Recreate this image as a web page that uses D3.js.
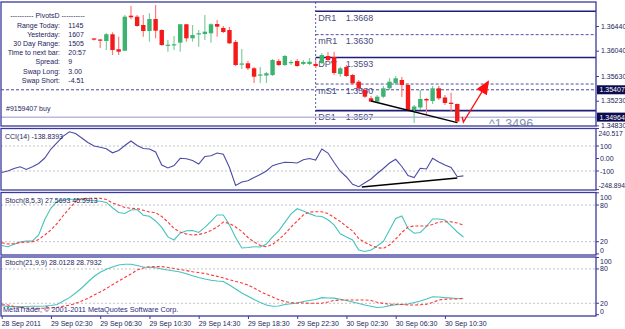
<!DOCTYPE html>
<html>
<head>
<meta charset="utf-8">
<script src="https://cdn.jsdelivr.net/npm/d3@7"></script>
<style>
  body { margin: 0; background: #fff; }
  svg { display: block; font-family: "Liberation Sans", Arial, sans-serif; }
</style>
</head>
<body>
<svg id="chart" width="625" height="329"></svg>
<script>
// ---- data (M30 bars, index 0 = 28 Sep 22:30) ----
const firstCandle = 15;
const opens  = [1.36238,1.36221,1.36197,1.36306,1.36063,1.36040,1.36607,1.36591,1.36456,1.36359,
                1.36553,1.36375,1.36127,1.36127,1.36170,1.36468,1.36241,1.36306,1.36310,1.36322,
                1.36472,1.36408,1.36375,1.36181,1.35817,1.35836,1.35755,1.35638,1.35638,1.35646,
                1.35873,1.35808,1.35841,1.35873,1.35825,1.35825,1.35825,1.35841,1.35954,1.35938,
                1.35663,1.35776,1.35646,1.35538,1.35404,1.35269,1.35214,1.35295,1.35431,1.35512,
                1.35566,1.35485,1.35080,1.35120,1.35258,1.35225,1.35431,1.35282,1.35198,1.35177];
const highs  = [1.36246,1.36229,1.36327,1.36338,1.36267,1.36618,1.36764,1.36618,1.36618,1.36646,
                1.36780,1.36387,1.36213,1.36278,1.36472,1.36472,1.36456,1.36375,1.36618,1.36484,
                1.36537,1.36440,1.36424,1.36213,1.36068,1.35873,1.35776,1.35776,1.35695,1.35906,
                1.35906,1.35970,1.35889,1.35906,1.35889,1.35922,1.35889,1.36003,1.36019,1.36024,
                1.35781,1.35808,1.35663,1.35566,1.35436,1.35306,1.35323,1.35468,1.35598,1.35630,
                1.35614,1.35517,1.35161,1.35404,1.35274,1.35468,1.35468,1.35323,1.35360,1.35185];
const lows   = [1.36205,1.36084,1.36051,1.35970,1.35970,1.36040,1.36548,1.36429,1.36267,1.36186,
                1.36241,1.36121,1.36024,1.36051,1.36024,1.36186,1.36186,1.36105,1.36213,1.36170,
                1.36267,1.36327,1.36149,1.35792,1.35744,1.35727,1.35517,1.35517,1.35517,1.35630,
                1.35792,1.35792,1.35808,1.35776,1.35808,1.35808,1.35760,1.35825,1.35857,1.35646,
                1.35619,1.35614,1.35485,1.35404,1.35274,1.35209,1.35193,1.35274,1.35404,1.35485,
                1.35290,1.35064,1.34869,1.35080,1.34999,1.35177,1.35242,1.35161,1.35052,1.34874];
const closes = [1.36221,1.36205,1.36306,1.36051,1.36024,1.36591,1.36581,1.36440,1.36359,1.36553,
                1.36364,1.36132,1.36137,1.36144,1.36468,1.36241,1.36294,1.36322,1.36348,1.36468,
                1.36429,1.36343,1.36160,1.35808,1.35833,1.35755,1.35619,1.35655,1.35674,1.35889,
                1.35808,1.35954,1.35857,1.35792,1.35857,1.35862,1.35792,1.35970,1.35889,1.35679,
                1.35755,1.35630,1.35512,1.35431,1.35295,1.35214,1.35295,1.35431,1.35538,1.35593,
                1.35485,1.35080,1.35136,1.35258,1.35234,1.35431,1.35269,1.35193,1.35177,1.34893];

const cci = [-112,-100,-80,-66,-88,-66,-40,4,76,128,
             180,214,200,164,128,100,90,78,46,64,
             104,140,104,80,76,52,-52,-76,-56,2,
             -2,-16,-44,16,22,44,34,-72,-216,-188,
             -178,-152,-128,-100,-57,-42,-30,-32,-36,-10,
             0,-12,76,44,-32,-102,-148,-206,-226,-194,
             -164,-120,-80,-36,-6,-64,-136,-152,-78,-84,
             2,-28,-52,-72,-146,-139];

const fastMain = [13.8,11.8,15.7,19.5,21.1,21.1,31,56.4,75.1,85.8,
                  88.3,89.4,89.4,88.6,87.9,87.1,86.3,84.2,75.5,67.8,
                  66.2,71.9,72.7,63.3,61.6,53.9,43.3,27.8,22.8,33.8,
                  37.9,38.3,35.1,43.3,53.1,63.7,63.7,47.3,26.9,9.7,
                  10.6,11.8,11.4,16.2,27.8,37.6,51.5,65.4,73.9,70.3,
                  65.9,62.1,61.3,55.9,47.4,33,27.8,22.8,6.4,4,
                  6.4,13,20.3,39.1,57.9,62,41.6,33.9,35.1,44.9,
                  57.1,57.1,55.5,45.7,35.9,27.6];
const fastSignal = [18.2,16.2,16.7,18.7,19.2,19.8,23.6,31,39.1,49.8,
                    62.8,74.3,85.7,90.6,91,91,91,89,83.3,80,
                    75.9,74.6,74.3,71.3,68.5,67.7,61.2,52.2,41.5,35.8,
                    32.6,30.9,31.8,34.2,38.3,44,52.2,49.8,44,36.7,
                    26.9,19.5,13.8,11.8,15.4,23.6,32.6,44,53.8,63.7,
                    68.5,69,69,66.1,59.6,53.1,44.9,37.5,25.2,18.7,
                    13.8,10,9.2,14.6,24.4,35.1,44,45.7,45.7,45.7,
                    48.1,52.2,52.7,52.5,50.6,47.3];

const slowMain = [16.2,14.1,14.1,14.1,14.4,14.8,14.9,15.1,16.2,17.9,
                  24,29.8,38,46.7,57.2,66.8,74.2,79.6,83.5,87,
                  88.2,88.2,86.1,83.5,82.9,82.2,80,78.2,76.5,74.7,
                  71.6,68.1,65.1,62.5,60.2,59,58.1,52,45,38,
                  32.2,26.6,21.4,17,14.8,15.3,17.9,19.1,20.5,23.1,
                  24.9,26.6,29.8,29.3,28.9,27,24.9,22.3,19.7,17,
                  14.9,12.7,13.5,15.8,17.4,17.9,18.8,21.4,24,27.5,
                  31.4,31,29.8,29.3,28.4,28];
const slowSignal = [18.8,17,14.4,12.3,11.8,11.4,11.3,11.4,12.1,12.7,
                    14.8,16.5,19.7,24,28.4,34.5,39.8,45.9,52.5,59,
                    65.1,71.2,78.2,81.7,83.8,84,84,82.6,80.8,78.9,
                    77,75.2,73.7,72.1,69.5,67,64.2,61.1,58.1,55.5,
                    52,46.7,40.6,35.4,31,26.3,23.1,20.9,20.5,20.5,
                    20,20,20,22.3,24.9,25.8,25.8,25.8,25.8,25.8,
                    24.9,21.7,19.7,18.3,18.3,17.9,17,17,17.4,18.3,
                    21.4,25.8,27,27.5,27.5,28.8];

const timeTickBars = [0, 8, 16, 24, 32, 40, 48, 56, 64, 72];
const timeLabels = ['28 Sep 2011', '29 Sep 02:30', '29 Sep 06:30', '29 Sep 10:30', '29 Sep 14:30',
                    '29 Sep 18:30', '29 Sep 22:30', '30 Sep 02:30', '30 Sep 06:30', '30 Sep 10:30'];
const priceTicks = [1.3644, 1.3604, 1.3563, 1.3523, 1.3483];
const pivotNames  = ['DR1', 'mR1', 'DPV', 'mS1', 'DS1'];
const pivotLevels = [1.3668, 1.3630, 1.3593, 1.3550, 1.3507];
const pivotDashed = [false, true, false, true, false];
const pivotStartBar = 51;           // 30 Sep 00:00
const bidPrice = 1.35407;
const orderPrice = 1.34964;
const infoLabels = ['Range Today:', 'Yesterday:', '30 Day Range:', 'Time to next bar:', 'Spread:', 'Swap  Long:', 'Swap  Short:'];
const infoValues = ['1145', '1607', '1505', '20:57', '9', '3.00', '-4.51'];
const priceTrend = [[60, 1.35225], [74, 1.34874]];
const cciTrend = [[58.5, -228], [74, -156]];
const arrowPath = [[74.8, 1.34966], [75, 1.34885], [79, 1.35533]];

// ---- layout ----
const svg = d3.select('#chart');
const frameColor = '#3a3a9c';
const textColor = '#24245c';
const left = 1, right = 596;
const panels = {
  main: {top: 2, bottom: 126},
  cci:  {top: 128.5, bottom: 190},
  fast: {top: 192.5, bottom: 255},
  slow: {top: 257, bottom: 316}
};

const x = d3.scaleLinear().domain([0, 75]).range([1.7, 463.4]);
const yPrice = d3.scaleLinear().domain([1.3483, 1.3644]).range([125.4, 26]);
const yCci = d3.scaleLinear().domain([-248.894, 240.517]).range([189.6, 128.5]);
const yFast = d3.scaleLinear().domain([0, 100]).range([253.9, 192.8]);
const ySlow = d3.scaleLinear().domain([0, 100]).range([314.7, 257.5]);

svg.append('rect').attr('width', 625).attr('height', 329).attr('fill', '#fff');

const defs = svg.append('defs');
Object.entries(panels).forEach(([k, p]) => {
  defs.append('clipPath').attr('id', 'clip-' + k)
    .append('rect').attr('x', left).attr('y', p.top).attr('width', right - left).attr('height', p.bottom - p.top);
});

function panelGroup(k) {
  return svg.append('g').attr('clip-path', `url(#clip-${k})`);
}

// ---- main price panel ----
const main = panelGroup('main');

// day separator
main.append('line')
  .attr('x1', x(pivotStartBar)).attr('x2', x(pivotStartBar))
  .attr('y1', panels.main.top).attr('y2', panels.main.bottom)
  .attr('stroke', '#5a5aa8').attr('stroke-dasharray', '2,2');

// pivot lines + labels
pivotLevels.forEach((lv, i) => {
  const yy = yPrice(lv);
  main.append('line')
    .attr('x1', x(pivotStartBar)).attr('x2', right)
    .attr('y1', yy).attr('y2', yy)
    .attr('stroke', pivotDashed[i] ? '#5050a8' : '#1e1e78')
    .attr('stroke-width', pivotDashed[i] ? 1 : 1.6)
    .attr('stroke-dasharray', pivotDashed[i] ? '3,2' : null);
  main.append('text').attr('x', x(pivotStartBar) + 2.5).attr('y', yy + 9.5)
    .attr('font-size', 9).attr('fill', '#4a4a80').text(pivotNames[i]);
  main.append('text').attr('x', x(pivotStartBar) + 30).attr('y', yy + 9.5)
    .attr('font-size', 9).attr('fill', '#4a4a80').text(lv.toFixed(4));
});

// bid line and order line
main.append('line').attr('x1', left).attr('x2', right)
  .attr('y1', yPrice(bidPrice)).attr('y2', yPrice(bidPrice))
  .attr('stroke', '#4848a0').attr('stroke-dasharray', '3,2');
main.append('line').attr('x1', left).attr('x2', right)
  .attr('y1', yPrice(orderPrice)).attr('y2', yPrice(orderPrice))
  .attr('stroke', '#b8b8e0').attr('stroke-width', 1.5);

// big price label near the current bar
main.append('text').attr('x', 489).attr('y', 127.5)
  .attr('font-size', 12.5).attr('fill', '#8592ad').text('^1.3496');

// candles
const candles = opens.map((o, k) => ({i: firstCandle + k, o, h: highs[k], l: lows[k], c: closes[k]}));
const candleG = main.append('g');
candleG.selectAll('.wick').data(candles).join('line')
  .attr('class', 'wick')
  .attr('x1', d => x(d.i)).attr('x2', d => x(d.i))
  .attr('y1', d => yPrice(d.h)).attr('y2', d => yPrice(d.l))
  .attr('stroke', d => d.c >= d.o ? '#7fcf9c' : '#ff7a7a').attr('stroke-width', 1.2);
candleG.selectAll('.body').data(candles).join('rect')
  .attr('class', 'body')
  .attr('x', d => x(d.i) - 2.2).attr('width', 4.4)
  .attr('y', d => Math.min(yPrice(d.o), yPrice(d.c)))
  .attr('height', d => Math.max(1.2, Math.abs(yPrice(d.o) - yPrice(d.c))))
  .attr('fill', d => d.c >= d.o ? '#3cb371' : '#f41a1a');

// trend line on price
main.append('line')
  .attr('x1', x(priceTrend[0][0])).attr('y1', yPrice(priceTrend[0][1]))
  .attr('x2', x(priceTrend[1][0])).attr('y2', yPrice(priceTrend[1][1]))
  .attr('stroke', '#000').attr('stroke-width', 1.4);

// red arrow
const arrowPts = arrowPath.map(d => [x(d[0]), yPrice(d[1])]);
main.append('path').attr('d', d3.line()(arrowPts))
  .attr('fill', 'none').attr('stroke', '#ff1010').attr('stroke-width', 1.4);
{
  const [x0, y0] = arrowPts[1], [x1, y1] = arrowPts[2];
  const ang = Math.atan2(y1 - y0, x1 - x0);
  const len = 12, half = 6;
  const bx = x1 - len * Math.cos(ang), by = y1 - len * Math.sin(ang);
  const px = -Math.sin(ang) * half, py = Math.cos(ang) * half;
  main.append('path')
    .attr('d', `M${x1 + 2 * Math.cos(ang)},${y1 + 2 * Math.sin(ang)}L${bx + px},${by + py}L${bx - px},${by - py}Z`)
    .attr('fill', '#ff1010');
}

// info block
const info = main.append('g').attr('font-size', 7.6).attr('fill', '#1a1a48');
info.append('text').attr('x', 47.5).attr('y', 17.7).attr('text-anchor', 'middle')
  .text('---------- PivotsD ----------');
infoLabels.forEach((t, i) => {
  const yy = 27.7 + i * 9.17;
  info.append('text').attr('x', 60).attr('y', yy).attr('text-anchor', 'end').text(t);
  info.append('text').attr('x', 68.3).attr('y', yy).text(infoValues[i]);
});
info.append('text').attr('x', 6).attr('y', 111).text('#9159407 buy');

// ---- indicator panels ----
function levels(g, scale, vals) {
  vals.forEach(v => {
    g.append('line').attr('x1', left).attr('x2', right)
      .attr('y1', scale(v)).attr('y2', scale(v))
      .attr('stroke', '#c4c4c4').attr('stroke-dasharray', '2,2');
  });
}
function series(g, scale, vals, color, dash) {
  g.append('path')
    .attr('d', d3.line().x((d, i) => x(i)).y(d => scale(d))(vals))
    .attr('fill', 'none').attr('stroke', color).attr('stroke-width', 1.1)
    .attr('stroke-dasharray', dash || null);
}

const cciG = panelGroup('cci');
levels(cciG, yCci, [100, -100]);
series(cciG, yCci, cci, '#4b4ba8');
cciG.append('line')
  .attr('x1', x(cciTrend[0][0])).attr('y1', yCci(cciTrend[0][1]))
  .attr('x2', x(cciTrend[1][0])).attr('y2', yCci(cciTrend[1][1]))
  .attr('stroke', '#000').attr('stroke-width', 1.6);

const fastG = panelGroup('fast');
levels(fastG, yFast, [80, 20]);
series(fastG, yFast, fastMain, '#45c3bd');
series(fastG, yFast, fastSignal, '#ff3535', '3,2');

const slowG = panelGroup('slow');
levels(slowG, ySlow, [80, 20]);
series(slowG, ySlow, slowMain, '#45c3bd');
series(slowG, ySlow, slowSignal, '#ff3535', '3,2');

// titles
const titles = [['CCI(14) -138.8393', 138.5], ['Stoch(8,5,3) 27.5693 45.5913', 202.5],
                ['Stoch(21,9,9) 28.0128 28.7932', 265]];
titles.forEach(t => svg.append('text').attr('x', 5).attr('y', t[1])
  .attr('font-size', 7).attr('fill', textColor).text(t[0]));
svg.append('text').attr('x', 3).attr('y', 312).attr('font-size', 7.3).attr('fill', '#2c2c80')
  .text('MetaTrader, \u00a9 2001-2011 MetaQuotes Software Corp.');

// frames
Object.values(panels).forEach(p => {
  svg.append('rect').attr('x', left).attr('y', p.top).attr('width', right - left).attr('height', p.bottom - p.top)
    .attr('fill', 'none').attr('stroke', frameColor).attr('stroke-width', 1.3);
});

// ---- right axes ----
const priceAxis = svg.append('g').attr('transform', `translate(${right},0)`)
  .call(d3.axisRight(yPrice).tickValues(priceTicks).tickFormat(d3.format('.5f')).tickSize(3).tickPadding(2));
priceAxis.select('.domain').remove();

function indicatorAxis(scale, ticks, fmt, p) {
  const g = svg.append('g').attr('transform', `translate(${right},0)`);
  ticks.forEach((v, i) => {
    const yy = scale(v);
    const ly = Math.max(p.top + 4.5, Math.min(p.bottom - 5, yy));
    g.append('line').attr('x1', 0).attr('x2', 3).attr('y1', yy).attr('y2', yy).attr('stroke', frameColor);
    const long = fmt[i].length > 6;
    g.append('text').attr('x', long ? 2.5 : 4).attr('y', ly + 2.5)
      .attr('font-size', long ? 6.7 : 7).text(fmt[i]);
  });
  return g;
}
indicatorAxis(yCci, [240.517, 100, 0, -100, -248.894], ['240.517', '100', '0.00', '-100', '-248.894'], panels.cci);
indicatorAxis(yFast, [100, 80, 20, 0], ['100', '80', '20', '0'], panels.fast);
indicatorAxis(ySlow, [100, 80, 20, 0], ['100', '80', '20', '0'], panels.slow);

// highlighted prices
[bidPrice, orderPrice].forEach(v => {
  const yy = yPrice(v);
  svg.append('rect').attr('x', right + 1).attr('y', yy - 4.5).attr('width', 29).attr('height', 9).attr('fill', '#0c0c4e');
  svg.append('text').attr('x', right + 3.5).attr('y', yy + 2.5).attr('font-size', 7).attr('fill', '#fff').text(v.toFixed(5));
});

// ---- time axis ----
const timeAxis = svg.append('g').attr('transform', `translate(0,${panels.slow.bottom})`)
  .call(d3.axisBottom(x).tickValues(timeTickBars).tickFormat((d, i) => timeLabels[i]).tickSize(3).tickPadding(2));
timeAxis.select('.domain').remove();
timeAxis.selectAll('text').attr('text-anchor', 'start').attr('dx', -0.5);

svg.selectAll('.tick text').attr('font-size', 7).attr('fill', textColor).attr('font-family', '"Liberation Sans", Arial, sans-serif');
svg.selectAll('.tick line').attr('stroke', frameColor);
svg.selectAll('g > text').filter(function () { return !this.getAttribute('font-size'); })
  .attr('font-size', 7).attr('fill', textColor);
svg.selectAll('g > text').filter(function () { return !this.getAttribute('fill'); })
  .attr('fill', textColor);
</script>
</body>
</html>
